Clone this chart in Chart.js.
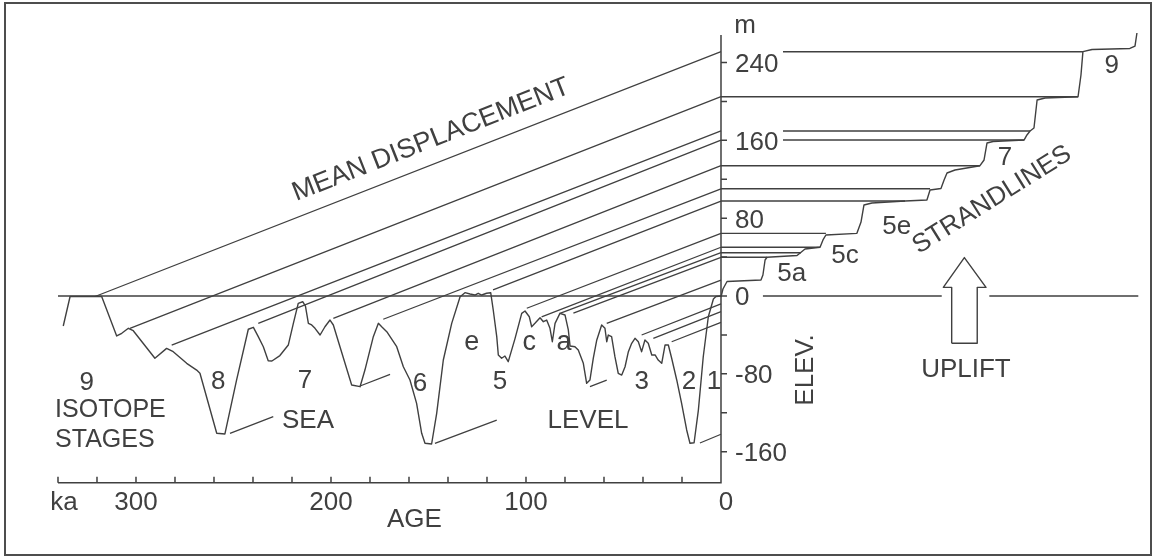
<!DOCTYPE html>
<html>
<head>
<meta charset="utf-8">
<script src="https://cdn.jsdelivr.net/npm/chart.js@4.4.1/dist/chart.umd.min.js"></script>
<style>
  html, body { margin: 0; padding: 0; background: #fff; }
  #wrap { position: relative; width: 1154px; height: 557px; }
  #frame { position: absolute; left: 4px; top: 2px; width: 1148px; height: 554px;
           box-sizing: border-box; border: 2px solid #4d4d4d; pointer-events: none; }
</style>
</head>
<body>
<div id="wrap">
  <canvas id="chart" width="1154" height="557"></canvas>
  <div id="frame"></div>
</div>
<script>
// sea level curve (age in ka, elevation in m)
const seaAge = [337.3,333.8,317.6,309.9,307.3,303.9,301.4,290.3,284.3,280.9,274.0,268.9,267.2,258.6,254.4,248.4,242.4,239.8,237.3,234.7,232.2,230.3,226.2,221.9,219.3,216.8,214.5,213.1,211.6,209.9,208.2,205.6,203.1,200.5,198.8,195.4,189.4,185.1,182.6,178.3,175.7,174.0,171.4,166.3,162.9,159.5,156.1,153.5,151.8,148.4,145.8,142.4,138.1,133.8,131.3,128.7,126.2,124.5,122.7,120.2,118.1,116.8,115.0,114.2,112.5,110.8,109.1,105.6,102.2,100.5,98.3,97.1,95.4,92.8,91.1,89.4,87.7,86.5,85.1,82.6,80.0,78.3,77.4,74.9,73.2,70.6,68.9,67.2,65.5,63.7,61.2,59.5,58.6,57.8,56.1,54.4,52.7,50.9,49.2,47.5,45.8,44.1,42.4,40.7,39.0,37.3,35.5,33.8,32.2,30.4,28.7,27.0,25.3,22.7,20.2,17.6,15.9,13.8,11.6,9.1,6.5,3.9,2.6,0];
const seaLevel = [-30.8,-0.5,-0.5,-41.1,-38.3,-33.2,-35.7,-64.0,-53.8,-57.2,-69.2,-76.1,-79.4,-141.1,-141.8,-86.3,-34.2,-32.2,-41.8,-52.1,-66.5,-66.8,-61.2,-50.4,-28.1,-7.5,-5.9,-10.3,-28.1,-29.8,-33.2,-40.1,-31.6,-24.7,-29.8,-52.1,-91.5,-93.2,-76.1,-41.8,-28.1,-31.6,-36.7,-52.1,-72.7,-86.3,-110.3,-141.1,-151.4,-152.1,-120.6,-65.8,-28.1,-0.7,3.4,2.1,1.0,2.8,1.0,2.8,3.4,-14.4,-41.8,-60.6,-64.0,-61.7,-67.5,-43.5,-17.8,-15.4,-21.3,-31.6,-28.1,-22.3,-26.4,-24.7,-33.2,-47.0,-28.1,-17.8,-19.5,-34.9,-51.4,-52.1,-55.5,-69.2,-89.7,-86.3,-64.0,-45.2,-29.8,-33.2,-47.0,-40.1,-41.8,-62.4,-79.4,-81.2,-72.7,-57.2,-48.6,-43.5,-47.0,-57.2,-45.2,-48.6,-60.6,-60.6,-65.8,-69.2,-50.4,-50.4,-64.0,-86.3,-110.3,-137.7,-151.4,-150.8,-117.2,-62.4,-21.3,-3.1,-0.5,0];

// strandline staircase (distance right of the axis, same units as ka)
const strandX = [0,1.0,3.1,20.5,21.5,22.6,23.6,39.0,43.1,50.8,52.3,53.8,69.7,71.8,73.3,77.4,94.4,105.6,107.2,112.8,114.4,115.9,120.0,132.8,134.9,136.4,139.5,155.4,156.9,158.5,160.5,162.1,166.2,183.1,184.6,185.6,190.3,209.7,212.3,213.3];
const strandElev = [-1,7.2,14.9,16.4,21.6,37.0,39.8,41.6,48.3,50.1,57.6,62.7,64.4,76.0,93.5,95.6,97.6,98.7,108.9,110.5,119.2,126.4,129.5,133.9,139.8,157.2,158.8,160.3,165.5,169.6,172.7,201.4,203.5,204.8,227.1,251.1,253.3,254.4,256.9,270.3];

// terrace levels and their horizontal extent
const terraceElev = [251.1, 204.8, 169.6, 160.3, 133.9, 110.2, 97.6, 64.4, 50.1, 44.5, 39.8];
const terraceFrom = [31.8, 0, 31.8, 31.8, 0, 0, 0, 0, 0, 0, 0];
const terraceTo = [185.6, 183.1, 158.5, 155.4, 132.8, 107.2, 94.4, 53.8, 50.8, 41.0, 23.6];

// mean displacement lines: highstand (age, level) to elevation today
const dispAge = [321.0, 303.1, 281.7, 237.3, 198.8, 173.2, 116.9, 99.6, 92.0, 82.6, 75.7, 58.6, 40.7, 34.7, 25.3];
const dispFrom = [-0.5, -33.2, -50.4, -28.1, -22.9, -23.9, 6.2, -12.6, -21.5, -17.8, -17.5, -28.1, -40.1, -43.5, -47.0];
const dispTo = [251.1, 204.8, 169.6, 160.3, 133.9, 110.2, 97.6, 64.4, 50.1, 44.5, 39.8, 16.4, -8.0, -16.0, -27.0];

// short lines from the lowstands
const lowAge0 = [251.8, 185.1, 146.7, 67.2, 10.8];
const lowElev0 = [-141.1, -92.5, -151.4, -93.2, -151.1];
const lowAge1 = [229.6, 169.7, 115.0, 58.6, 0];
const lowElev1 = [-124.0, -80.5, -127.5, -86.5, -142.1];

// zero line pieces
const zeroFrom = [-340, 21.5, 137.6];
const zeroTo = [0, 113.2, 214.0];

// uplift arrow outline
const arrowX = [118.3, 118.3, 114.0, 124.8, 135.9, 131.4, 131.4, 118.3];
const arrowY = [-48.6, 8.9, 8.9, 39.5, 8.9, 8.9, -48.6, -48.6];

// axes
const elevTicks = [240, 200, 160, 120, 80, 40, 0, -40, -80, -120, -160];
const elevLabels = [240, 160, 80, 0, -80, -160];
const ageTicks = [0, 20, 40, 60, 80, 100, 120, 140, 160, 180, 200, 220, 240, 260, 280, 300, 320, 340];
const ageLabels = [300, 200, 100, 0];
const elevAxisTop = 268.2;
const ageAxisElev = -191.9;

const INK = '#404040';
const FAMILY = '"Liberation Sans", Arial, sans-serif';

// text: [text, x, y, align, angle, size]
const notes = [
    ['m', 12.3, 270.0, 'center', 0, 26],
    ['9', -325.3, -96.6, 'center', 0, 26],
    ['ISOTOPE', -341.5, -124.0, 'left', 0, 25],
    ['STAGES', -341.5, -155.2, 'left', 0, 25],
    ['8', -257.8, -95.6, 'center', 0, 26],
    ['SEA', -211.8, -135.7, 'center', 0, 26],
    ['7', -213.3, -94.9, 'center', 0, 26],
    ['6', -154.4, -97.6, 'center', 0, 26],
    ['e', -127.8, -55.5, 'center', 0, 27],
    ['5', -113.3, -95.6, 'center', 0, 26],
    ['c', -98.3, -55.5, 'center', 0, 27],
    ['a', -80.5, -55.5, 'center', 0, 27],
    ['LEVEL', -68.2, -135.7, 'center', 0, 26],
    ['3', -40.7, -95.6, 'center', 0, 26],
    ['2', -16.4, -95.6, 'center', 0, 26],
    ['1', -3.6, -95.6, 'center', 0, 26],
    ['AGE', -157.2, -237.4, 'center', 0, 26],
    ['ka', -336.9, -219.9, 'center', 0, 26],
    ['9', 200.4, 229.6, 'center', 0, 26],
    ['7', 145.6, 134.6, 'center', 0, 26],
    ['5e', 90.1, 63.7, 'center', 0, 26],
    ['5c', 63.6, 34.3, 'center', 0, 26],
    ['5a', 36.3, 15.4, 'center', 0, 26],
    ['UPLIFT', 125.6, -82.9, 'center', 0, 26],
    ['ELEV.', 43.5, -76.1, 'center', -90, 26],
    ['MEAN DISPLACEMENT', -148.7, 160.3, 'center', -21.5, 27],
    ['STRANDLINES', 139.0, 98.7, 'center', -32, 26]
];

function segments(x0, y0, x1, y1) {
    const pts = [];
    x0.forEach((x, i) => {
        pts.push({ x: x, y: y0[i] }, { x: x1[i], y: y1[i] }, { x: x1[i], y: null });
    });
    return pts;
}

function lineSet(data, width) {
    return {
        data: data,
        showLine: true,
        borderColor: INK,
        borderWidth: width,
        pointRadius: 0,
        fill: false,
        tension: 0,
        borderJoinStyle: 'round',
        spanGaps: false
    };
}

const seaPoints = seaAge.map((a, i) => ({ x: -a, y: seaLevel[i] }));
const strandPoints = strandX.map((d, i) => ({ x: d, y: strandElev[i] }));
const terracePoints = segments(terraceFrom, terraceElev, terraceTo, terraceElev);
const dispPoints = segments(dispAge.map(a => -a), dispFrom, dispAge.map(() => 0), dispTo);
const lowPoints = segments(lowAge0.map(a => -a), lowElev0, lowAge1.map(a => -a), lowElev1);
const zeroPoints = segments(zeroFrom, zeroFrom.map(() => 0), zeroTo, zeroTo.map(() => 0));
const arrowPoints = arrowX.map((d, i) => ({ x: d, y: arrowY[i] }));

const diagramText = {
    id: 'diagramText',
    afterDatasetsDraw(chart) {
        const ctx = chart.ctx;
        const sx = chart.scales.x;
        const sy = chart.scales.y;
        ctx.save();
        ctx.strokeStyle = INK;
        ctx.fillStyle = INK;
        ctx.lineWidth = 1.5;

        // axes
        const x0 = sx.getPixelForValue(0);
        const yBase = sy.getPixelForValue(ageAxisElev);
        ctx.beginPath();
        ctx.moveTo(x0, sy.getPixelForValue(elevAxisTop));
        ctx.lineTo(x0, yBase);
        ctx.lineTo(sx.getPixelForValue(-ageTicks[ageTicks.length - 1]), yBase);
        elevTicks.forEach(v => {
            const py = sy.getPixelForValue(v);
            ctx.moveTo(x0, py);
            ctx.lineTo(x0 + 6, py);
        });
        ageTicks.forEach(a => {
            const px = sx.getPixelForValue(-a);
            ctx.moveTo(px, yBase);
            ctx.lineTo(px, yBase - 6);
        });
        ctx.stroke();

        ctx.font = '26px ' + FAMILY;
        ctx.textBaseline = 'alphabetic';
        ctx.textAlign = 'left';
        elevLabels.forEach(v => {
            ctx.fillText(String(v), x0 + 14, sy.getPixelForValue(v) + 9.5);
        });
        ctx.textAlign = 'center';
        ageLabels.forEach(a => {
            ctx.fillText(String(a), sx.getPixelForValue(-a) + (a === 0 ? 5 : 0), yBase + 27);
        });

        // labels
        notes.forEach(n => {
            const px = sx.getPixelForValue(n[1]);
            const py = sy.getPixelForValue(n[2]);
            ctx.save();
            ctx.font = n[5] + 'px ' + FAMILY;
            ctx.translate(px, py);
            ctx.textAlign = n[3];
            if (n[4] !== 0) {
                ctx.rotate(n[4] * Math.PI / 180);
                ctx.textBaseline = 'middle';
            } else {
                ctx.textBaseline = 'alphabetic';
            }
            ctx.fillText(n[0], 0, 0);
            ctx.restore();
        });
        ctx.restore();
    }
};

new Chart(document.getElementById('chart'), {
    type: 'scatter',
    data: {
        datasets: [
            lineSet(zeroPoints, 1.5),
            lineSet(dispPoints, 1.3),
            lineSet(lowPoints, 1.3),
            lineSet(terracePoints, 1.4),
            lineSet(strandPoints, 1.4),
            lineSet(seaPoints, 1.4),
            lineSet(arrowPoints, 1.4)
        ]
    },
    options: {
        responsive: false,
        animation: false,
        layout: { padding: 0 },
        plugins: { legend: { display: false }, tooltip: { enabled: false } },
        scales: {
            x: { type: 'linear', display: false, min: -369.74, max: 222.05 },
            y: { type: 'linear', display: false, min: -268.24, max: 304.21 }
        }
    },
    plugins: [diagramText]
});
</script>
</body>
</html>
